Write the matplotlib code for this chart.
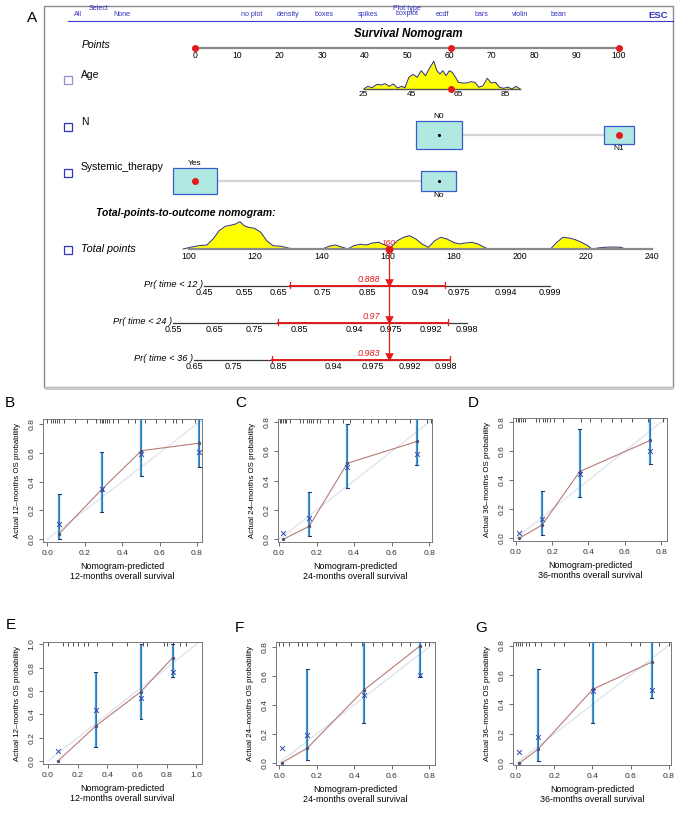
import matplotlib
matplotlib.use('Agg')
import matplotlib.pyplot as plt
import numpy as np
from matplotlib.patches import Rectangle

plt.rcParams['font.family'] = ['Liberation Sans', 'DejaVu Sans']

# ---------------- data ----------------
header_select = ['All', 'None']
plot_types = ['no plot', 'density', 'boxes', 'spikes', 'boxplot', 'ecdf', 'bars', 'violin', 'bean']
plot_type_x = [252, 288, 324, 368, 407, 442, 481, 520, 558]

points_ticks = list(range(0, 101, 10))

age_ticks = [25, 45, 65, 85]
age_grid = [25.0, 26.7, 28.5, 30.6, 32.3, 34.0, 35.8, 37.5, 39.3, 41.0, 42.4, 44.1, 45.9,
            47.6, 49.3, 51.1, 52.8, 54.6, 55.9, 57.2, 58.4, 59.8, 61.2, 62.4, 63.8, 65.0,
            66.7, 68.5, 70.2, 72.0, 73.7, 75.4, 77.2, 78.9, 80.7, 82.4, 84.1, 85.9, 87.6,
            89.3, 91.1]
age_density = [0, 2.7, 1.3, 4.7, 4, 5.3, 2.7, 5, 1, 2.7, 1.3, 11.7, 14.7, 11.7, 18.3, 13.3,
               20.7, 27.7, 18.3, 15, 18.3, 13.3, 18.3, 16.7, 11.7, 6.7, 6, 6, 7.3, 6.7, 1.7,
               3.3, 10.7, 6, 6.7, 1.7, 0.7, 2, 0, 2.7, 0]
age_pts_at_25 = 39.8
age_pts_per_year = 0.558
selected_age = 62

n_levels = ['N0', 'N1']
n_points = [57.5, 100]
n_freq = [0.70, 0.30]
sys_levels = ['Yes', 'No']
sys_points = [0, 57.5]
sys_freq = [0.61, 0.39]
selected_n = 'N1'
selected_sys = 'Yes'

total_ticks = list(range(100, 241, 20))
total_grid = [98.2, 100.4, 102.9, 105.4, 107.3, 109.1, 111.0, 112.9, 114.1, 115.4, 116.7,
              117.9, 119.8, 121.7, 123.5, 125.4, 127.9, 130.4, 132.9, 140.4, 142.3, 144.2,
              146.1, 148.0, 149.8, 151.7, 153.6, 155.5, 157.4, 159.2, 161.1, 163.0, 164.9,
              166.7, 168.6, 170.5, 172.4, 174.3, 176.1, 178.0, 179.9, 181.8, 183.6, 185.5,
              187.4, 189.3, 190.5, 209.3, 211.2, 213.1, 215.0, 216.8, 218.7, 220.6, 221.8,
              223.7, 225.6, 228.1, 230.6, 231.9]
total_density = [0, 1.7, 3.3, 4, 10, 18.3, 22.7, 24, 25, 27.3, 23.3, 21.7, 20.7, 16.7, 8.3,
                 3.3, 2.7, 0.7, 0, 0, 2.7, 4, 2, 0, 3.3, 4.7, 4, 6, 6.7, 4, 1.7, 8.3, 11.7,
                 13.3, 10, 5, 1.7, 8.3, 11.7, 10, 6.7, 5, 6, 6.7, 5, 1.7, 0, 0, 6.7, 11.7,
                 11, 9.3, 6.7, 3.3, 0, 1, 1.7, 2, 1.7, 0]

prob_labels = ['Pr( time < 12 )', 'Pr( time < 24 )', 'Pr( time < 36 )']
prob_tick_labels = [
    ['0.45', '0.55', '0.65', '0.75', '0.85', '0.94', '0.975', '0.994', '0.999'],
    ['0.55', '0.65', '0.75', '0.85', '0.94', '0.975', '0.992', '0.998'],
    ['0.65', '0.75', '0.85', '0.94', '0.975', '0.992', '0.998'],
]
prob_tick_total = [
    [104.5, 116.6, 126.9, 140.2, 153.8, 170.1, 181.6, 195.8, 209.1],
    [95.2, 107.6, 119.7, 133.3, 149.9, 161.1, 173.2, 184.1],
    [101.5, 113.3, 126.9, 143.8, 155.6, 166.8, 177.7],
]
pred_values = ['0.888', '0.97', '0.983']
ci_lo_total = [130.5, 126.9, 125.1]
ci_hi_total = [177.4, 178.3, 178.9]

cal_letters = ['B', 'C', 'D', 'E', 'F', 'G']
cal_months = [12, 24, 36, 12, 24, 36]
cal_pred = [[0.064, 0.290, 0.503, 0.812],
            [0.022, 0.161, 0.364, 0.735],
            [0.018, 0.145, 0.352, 0.740],
            [0.067, 0.321, 0.625, 0.840],
            [0.014, 0.148, 0.450, 0.749],
            [0.016, 0.116, 0.402, 0.712]]
cal_obs = [[0.039, 0.345, 0.615, 0.667],
           [0.0, 0.089, 0.519, 0.668],
           [0.0, 0.092, 0.460, 0.674],
           [0.0, 0.299, 0.593, 0.886],
           [0.0, 0.099, 0.501, 0.805],
           [0.0, 0.097, 0.503, 0.688]]
cal_corr = [[0.109, 0.352, 0.592, 0.604],
            [0.046, 0.147, 0.496, 0.585],
            [0.034, 0.133, 0.441, 0.598],
            [0.085, 0.436, 0.541, 0.764],
            [0.099, 0.191, 0.471, 0.609],
            [0.077, 0.176, 0.492, 0.497]]
nan = float('nan')
cal_lo = [[0.005, 0.189, 0.44, 0.502],
          [nan, 0.023, 0.348, 0.505],
          [nan, 0.023, 0.283, 0.510],
          [nan, 0.117, 0.359, 0.721],
          [nan, 0.018, 0.271, 0.593],
          [nan, 0.014, 0.271, 0.447]]
cal_hi = [[0.314, 0.604, 0.95, 0.95],
          [nan, 0.325, 0.787, 0.95],
          [nan, 0.326, 0.752, 0.95],
          [nan, 0.764, 1.0, 1.0],
          [nan, 0.644, 0.95, 0.95],
          [nan, 0.643, 0.95, 0.95]]
cal_rug = [
    [0.00, 0.02, 0.03, 0.04, 0.05, 0.06, 0.09, 0.15, 0.21, 0.26, 0.28, 0.29, 0.30, 0.31,
     0.32, 0.33, 0.35, 0.38, 0.43, 0.47, 0.52, 0.58, 0.63, 0.67, 0.69, 0.72, 0.79, 0.81],
    [0.004, 0.01, 0.02, 0.03, 0.04, 0.06, 0.11, 0.13, 0.15, 0.16, 0.17, 0.18, 0.20, 0.22,
     0.26, 0.29, 0.34, 0.38, 0.45, 0.49, 0.53, 0.57, 0.62, 0.70, 0.79, 0.81],
    [0.0, 0.01, 0.02, 0.03, 0.04, 0.05, 0.11, 0.13, 0.15, 0.16, 0.17, 0.19, 0.21, 0.26,
     0.36, 0.41, 0.47, 0.53, 0.58, 0.64, 0.73, 0.81],
    [0.0, 0.10, 0.135, 0.17, 0.20, 0.24, 0.27, 0.33, 0.43, 0.53, 0.64, 0.67, 0.78, 0.80,
     0.84, 0.89, 0.93],
    [0.0, 0.02, 0.05, 0.10, 0.12, 0.15, 0.20, 0.24, 0.30, 0.38, 0.44, 0.50, 0.55, 0.60,
     0.65, 0.70, 0.75, 0.78, 0.80],
    [0.0, 0.01, 0.02, 0.03, 0.05, 0.07, 0.10, 0.13, 0.20, 0.25, 0.38, 0.47, 0.60, 0.65,
     0.75, 0.80],
]

# ---------------- layout ----------------
W, H = 688, 813
fig = plt.figure(figsize=(W / 100, H / 100), dpi=100)


def fbox(x0, y0, x1, y1):
    return [x0 / W, 1 - y1 / H, (x1 - x0) / W, (y1 - y0) / H]


RED = '#e41a1c'
BLUE_TXT = '#3030c0'
GRAY_AX = '#8a8a8a'
HDR = 5.1

ov = fig.add_axes([0, 0, 1, 1])
ov.set_xlim(0, W)
ov.set_ylim(H, 0)
ov.axis('off')

# panel A frame
ov.add_patch(Rectangle((44, 6), 629, 381, fill=False, edgecolor='#8c8c8c', lw=1.0))
ov.plot([44, 673], [388, 388], color='#c8c8c8', lw=2.0, solid_capstyle='butt')
ov.text(32, 18, 'A', fontsize=11, ha='center', va='center')

# header
ov.text(78, 15, header_select[0], fontsize=HDR, color=BLUE_TXT, ha='center', va='center')
ov.text(99, 9, 'Select', fontsize=HDR, color=BLUE_TXT, ha='center', va='center')
ov.text(122, 15, header_select[1], fontsize=HDR, color=BLUE_TXT, ha='center', va='center')
for lab, x in zip(plot_types, plot_type_x):
    ov.text(x, 15 if lab != 'boxplot' else 13.5, lab, fontsize=HDR, color=BLUE_TXT,
            ha='center', va='center')
ov.text(407, 8, 'Plot type', fontsize=HDR, color=BLUE_TXT, ha='center', va='center')
ov.text(658, 15, 'ESC', fontsize=6.8, color=BLUE_TXT, ha='center', va='center', weight='bold')
ov.plot([68, 673], [21, 21], color='#3a3acc', lw=0.8)

ov.text(408, 34, 'Survival Nomogram', fontsize=8.3, weight='bold', style='italic',
        ha='center', va='center')
ov.text(82, 45, 'Points', fontsize=7.5, style='italic', ha='left', va='center')
ov.text(96, 213, 'Total-points-to-outcome nomogram:', fontsize=7.5, weight='bold',
        style='italic', ha='left', va='center')

# row labels + checkboxes
row_labels = [('Age', 75, 80, '#9090d0'), ('N', 122, 127, '#3030c8'),
              ('Systemic_therapy', 167, 173, '#3030c8')]
for lab, ty, cy, cc in row_labels:
    ov.text(81, ty, lab, fontsize=7.5, ha='left', va='center')
    ov.add_patch(Rectangle((64, cy - 4), 8, 8, fill=False, edgecolor=cc, lw=0.9))
ov.text(81, 249, 'Total points', fontsize=7.8, style='italic', ha='left', va='center')
ov.add_patch(Rectangle((64, 246), 8, 8, fill=False, edgecolor='#3030c8', lw=0.9))

# points-scale axes
axp = fig.add_axes(fbox(195, 0, 619, H))
axp.set_xlim(0, 100)
axp.set_ylim(H, 0)
axp.axis('off')

y_pts = 48
axp.plot([0, 100], [y_pts, y_pts], color=GRAY_AX, lw=1.6, clip_on=False)
for p in points_ticks:
    axp.text(p, 51, str(p), fontsize=6.2, ha='center', va='top', clip_on=False)

age_pts = [age_pts_at_25 + age_pts_per_year * (a - 25) for a in age_grid]
sel_age_pts = age_pts_at_25 + age_pts_per_year * (selected_age - 25)
y_age = 89
age_y = [y_age - d for d in age_density]
axp.fill_between(age_pts, age_y, y_age, color='#ffff00', lw=0, clip_on=False)
axp.plot(age_pts, age_y, color='#2d2d70', lw=0.7, clip_on=False)
axp.plot([age_pts[0], age_pts[-1]], [y_age, y_age], color='#555555', lw=1.0, clip_on=False)
for a in age_ticks:
    axp.text(age_pts_at_25 + age_pts_per_year * (a - 25), 91, str(a), fontsize=6,
             ha='center', va='top', clip_on=False)
axp.scatter([sel_age_pts], [y_age], s=16, color=RED, zorder=6, clip_on=False)


def cat_row(levels, pts, freq, selected, yc, label_pos):
    w_scale, h_scale = 13.1, 33.5
    axp.plot([pts[0], pts[1]], [yc, yc], color='#d4d4d4', lw=1.6, zorder=1, clip_on=False)
    for lev, p, f, lp in zip(levels, pts, freq, label_pos):
        w = w_scale * np.sqrt(f)
        h = h_scale * np.sqrt(f)
        axp.add_patch(Rectangle((p - w / 2, yc - h / 2), w, h, facecolor='#b2e8e2',
                                edgecolor='#3a5cc8', lw=0.9, zorder=3, clip_on=False))
        if lev == selected:
            axp.scatter([p], [yc], s=16, color=RED, zorder=5, clip_on=False)
        else:
            axp.scatter([p], [yc], s=1.5, color='black', zorder=5, clip_on=False)
        if lp == 'above':
            axp.text(p, yc - h / 2 - 0.5, lev, fontsize=6, ha='center', va='bottom', clip_on=False)
        else:
            axp.text(p, yc + h / 2 + 0.5, lev, fontsize=6, ha='center', va='top', clip_on=False)


cat_row(n_levels, n_points, n_freq, selected_n, 135, ['above', 'below'])
cat_row(sys_levels, sys_points, sys_freq, selected_sys, 181, ['above', 'below'])

sel_pts = [sel_age_pts, n_points[n_levels.index(selected_n)],
           sys_points[sys_levels.index(selected_sys)]]
axp.scatter(sel_pts, [y_pts] * 3, s=16, color=RED, zorder=6, clip_on=False)
total_selected = sum(sel_pts)

# total-points-scale axes
axt = fig.add_axes(fbox(189, 0, 652, H))
axt.set_xlim(100, 240)
axt.set_ylim(H, 0)
axt.axis('off')

y_tot = 249
tot_y = [y_tot - d for d in total_density]
axt.fill_between(total_grid, tot_y, y_tot, color='#ffff00', lw=0, clip_on=False)
axt.plot(total_grid, tot_y, color='#2d2d70', lw=0.7, clip_on=False)
axt.plot([100, 240], [y_tot, y_tot], color=GRAY_AX, lw=1.6, clip_on=False)
for t in total_ticks:
    axt.text(t, 252, str(t), fontsize=6.3, ha='center', va='top', clip_on=False)

row_y = [286, 323, 360]
axt.plot([total_selected, total_selected], [y_tot, row_y[-1] - 3], color=RED, lw=0.9,
         clip_on=False, zorder=4)
axt.scatter([total_selected], [y_tot], s=22, color=RED, zorder=6, clip_on=False)
axt.text(total_selected, y_tot - 2, f'{total_selected:.0f}', fontsize=6, color=RED,
         style='italic', ha='center', va='bottom', clip_on=False)

for i, y in enumerate(row_y):
    tp = prob_tick_total[i]
    axt.plot([tp[0], tp[-1]], [y, y], color='#3a3a3a', lw=0.9, clip_on=False)
    for t, lab in zip(tp, prob_tick_labels[i]):
        axt.text(t, y + 1.5, lab, fontsize=6.5, ha='center', va='top', clip_on=False)
    axt.text(tp[0] - 0.3, y - 1.5, prob_labels[i], fontsize=6.7, style='italic',
             ha='right', va='center', clip_on=False)
    lo, hi = ci_lo_total[i], ci_hi_total[i]
    axt.plot([lo, hi], [y, y], color=RED, lw=1.4, clip_on=False, zorder=5)
    for e in (lo, hi):
        axt.plot([e, e], [y - 4, y + 2], color=RED, lw=0.9, clip_on=False, zorder=5)
    axt.scatter([total_selected], [y - 3], marker='v', s=38, color=RED, zorder=6,
                clip_on=False, linewidths=0)
    axt.text(total_selected - 2.6, y - 6.5, pred_values[i], fontsize=6.5, color=RED,
             style='italic', ha='right', va='center', clip_on=False)

# ---------------- calibration panels ----------------
cal_boxes = [(43, 419, 202, 542), (278, 419, 432, 542), (513, 418, 667, 541),
             (43, 642, 202, 764), (276, 642, 435, 765), (513, 642, 671, 765)]
cal_xlim = [(-0.023, 0.827), (-0.005, 0.815), (-0.015, 0.832),
            (-0.034, 1.038), (-0.018, 0.831), (-0.016, 0.812)]
cal_ylim = [(-0.019, 0.835), (-0.018, 0.821), (-0.018, 0.828),
            (-0.026, 1.02), (-0.016, 0.834), (-0.011, 0.824)]
letter_pos = [(10, 403), (241, 403), (473, 403), (11, 625), (239, 628), (481, 628)]

for k in range(6):
    ax = fig.add_axes(fbox(*cal_boxes[k]))
    ax.set_xlim(*cal_xlim[k])
    ax.set_ylim(*cal_ylim[k])
    ticks = [0, 0.2, 0.4, 0.6, 0.8, 1.0] if k == 3 else [0, 0.2, 0.4, 0.6, 0.8]
    ax.set_xticks(ticks)
    ax.set_yticks(ticks)
    ax.set_xticklabels([f'{t:.1f}' for t in ticks])
    ax.set_yticklabels([f'{t:.1f}' for t in ticks], rotation=90, va='center')
    ax.tick_params(labelsize=6.1, length=3, width=0.6, color='#555555',
                   labelcolor='#333333', pad=2.5)
    for s in ax.spines.values():
        s.set_color('#777777')
        s.set_linewidth(0.7)
    ax.plot([0, 1.1], [0, 1.1], color='#dde2ec', lw=0.9, zorder=1)
    pred, obs, corr = cal_pred[k], cal_obs[k], cal_corr[k]
    ax.plot(pred, obs, color='#b87a74', lw=0.8, zorder=2)
    for x, lo, hi in zip(pred, cal_lo[k], cal_hi[k]):
        if np.isnan(lo):
            continue
        ax.plot([x, x], [lo, hi], color='#3d9ad6', lw=1.6, zorder=3, solid_capstyle='butt')
        ax.plot([x, x], [lo, hi], color='#2b5f99', lw=0.4, zorder=3)
        for e in (lo, hi):
            ax.plot([x - 0.008, x + 0.008], [e, e], color='#1e3a70', lw=0.8, zorder=4)
    ax.scatter(pred, obs, s=6, color='#4a5578', zorder=5, linewidths=0)
    ax.scatter(pred, corr, s=12, marker='x', color='#3548b0', zorder=6, linewidths=0.7)
    ax.vlines(cal_rug[k], 0.965, 1.0, transform=ax.get_xaxis_transform(),
              color='#333333', lw=0.6)
    m = cal_months[k]
    ax.set_ylabel(f'Actual {m}\u2013months OS probability', fontsize=5.7, labelpad=5)
    ax.set_xlabel(f'Nomogram-predicted\n{m}-months overall survival', fontsize=6.4,
                  labelpad=4, linespacing=1.15)
    lx, ly = letter_pos[k]
    ov.text(lx, ly, cal_letters[k], fontsize=11, ha='center', va='center')

fig.savefig('out.png', dpi=100)
